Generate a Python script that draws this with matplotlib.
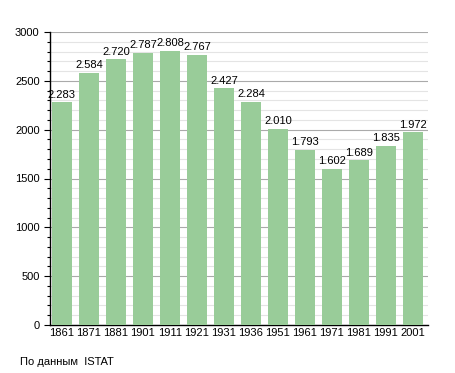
import numpy as np
import matplotlib.pyplot as plt
from matplotlib.ticker import MultipleLocator

years = ['1861', '1871', '1881', '1901', '1911', '1921', '1931',
         '1936', '1951', '1961', '1971', '1981', '1991', '2001']
population = [2283, 2584, 2720, 2787, 2808, 2767, 2427,
              2284, 2010, 1793, 1602, 1689, 1835, 1972]
labels = ['2.283', '2.584', '2.720', '2.787', '2.808', '2.767', '2.427',
          '2.284', '2.010', '1.793', '1.602', '1.689', '1.835', '1.972']

plt.rcParams['font.family'] = ['Liberation Sans', 'DejaVu Sans']
fs = 8

W, H = 455, 373
fig = plt.figure(figsize=(W / 100, H / 100), dpi=100)
ax = fig.add_axes([50 / W, 1 - 325 / H, 378 / W, 293 / H])

x = np.arange(len(years))
ax.bar(x, population, width=0.76, color='#99cc99', zorder=3)
for xi, v, lab in zip(x, population, labels):
    ax.text(xi, v + 25, lab, ha='center', va='bottom', fontsize=fs, zorder=4)

ax.set_xlim(-0.44, 13.56)
ax.set_ylim(0, 3000)
ax.set_xticks(x)
ax.set_xticklabels(years, fontsize=fs)
ax.yaxis.set_major_locator(MultipleLocator(500))
ax.yaxis.set_minor_locator(MultipleLocator(100))
ax.tick_params(axis='y', labelsize=fs, length=4, width=0.8)
ax.tick_params(axis='y', which='minor', length=2.5, width=0.8)
ax.tick_params(axis='x', length=0, pad=2)

ax.grid(axis='y', which='major', color='#aaaaaa', lw=0.8, zorder=0)
ax.grid(axis='y', which='minor', color='#e4e4e4', lw=0.8, zorder=0)
for s in ['top', 'right']:
    ax.spines[s].set_visible(False)
ax.spines['left'].set_linewidth(1)
ax.spines['bottom'].set_linewidth(1)

fig.text(20 / W, 1 - 362 / H, 'По данным  ISTAT', fontsize=fs, va='center')

fig.savefig('out.png', dpi=100)
